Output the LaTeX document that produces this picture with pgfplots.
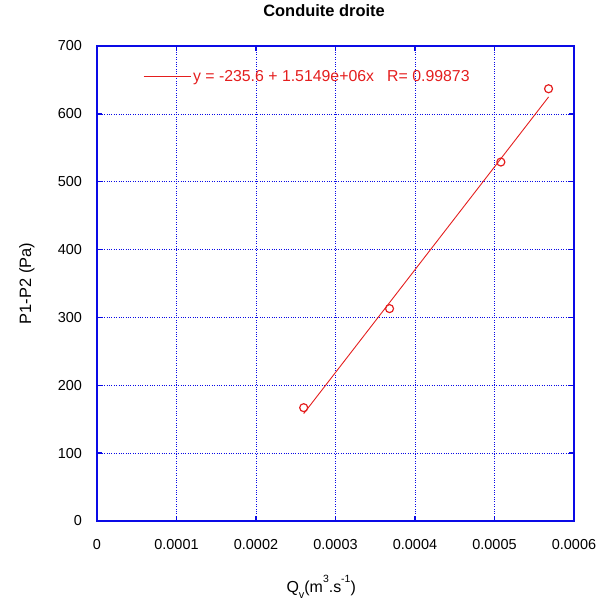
\documentclass[border=0pt]{standalone}
\usepackage{fontspec}
\setmainfont{Liberation Sans}
\usepackage{pgfplots}
\pgfplotsset{compat=1.18}
\definecolor{axblue}{RGB}{10,10,230}
\definecolor{fitred}{RGB}{228,30,30}
\begin{document}
\fontsize{14.5}{17}\selectfont
\begin{tikzpicture}
\begin{axis}[
  scale only axis, width=477bp, height=475bp,
  xmin=0, xmax=0.0006, ymin=0, ymax=700,
  xtick={0,0.0001,0.0002,0.0003,0.0004,0.0005,0.0006},
  xticklabels={0,0.0001,0.0002,0.0003,0.0004,0.0005,0.0006},
  ytick={0,100,200,300,400,500,600,700},
  scaled x ticks=false,
  /pgf/number format/assume math mode=true,
  grid=major,
  grid style={axblue, dotted, line width=0.7pt},
  axis line style={axblue, line width=1.3pt},
  tick style={axblue, line width=1.3pt},
  tick align=inside,
  major tick length=5bp,
  xticklabel style={yshift=-13bp},
  yticklabel style={xshift=-10bp},
  xlabel={Q\raisebox{-0.8ex}{\fontsize{11}{13}\selectfont v}(m\raisebox{1.1ex}{\fontsize{10.5}{13}\selectfont 3}.s\raisebox{1.1ex}{\fontsize{10.5}{13}\selectfont -1})},
  xlabel style={at={(axis description cs:0.47,-0.1495)}, anchor=base, font=\fontsize{16}{19}\selectfont},
  ylabel={P1-P2 (Pa)},
  ylabel style={at={(axis description cs:-0.147,0.5)}, anchor=center, rotate=0, font=\fontsize{16.5}{19}\selectfont},
  title={\bfseries Conduite droite},
  title style={at={(axis description cs:0.476,1.061)}, anchor=center, font=\fontsize{16.5}{19}\selectfont},
  legend style={draw=none, fill=none, at={(axis description cs:0.0964,0.935)}, anchor=west, inner sep=0pt,
    nodes={inner sep=2bp, text=fitred}, font=\fontsize{15.9}{18}\selectfont},
  legend image code/.code={\draw[#1] (0bp,0bp) -- (47bp,0bp);},
]
\addplot[fitred, line width=0.9pt] coordinates {(0.00026,158.27) (0.000568,624.86)};
\addlegendentry{y = -235.6 + 1.5149e+06x \ \ R= 0.99873}
\addplot[only marks, mark=o, mark size=4bp, mark options={fitred, line width=1.2pt}, forget plot]
  coordinates {(0.00026,167) (0.000368,313) (0.000508,529) (0.000568,637)};
\end{axis}
\pgfresetboundingbox
\path[use as bounding box] (-97bp,-80bp) rectangle (499bp,521bp);
\end{tikzpicture}
\end{document}
